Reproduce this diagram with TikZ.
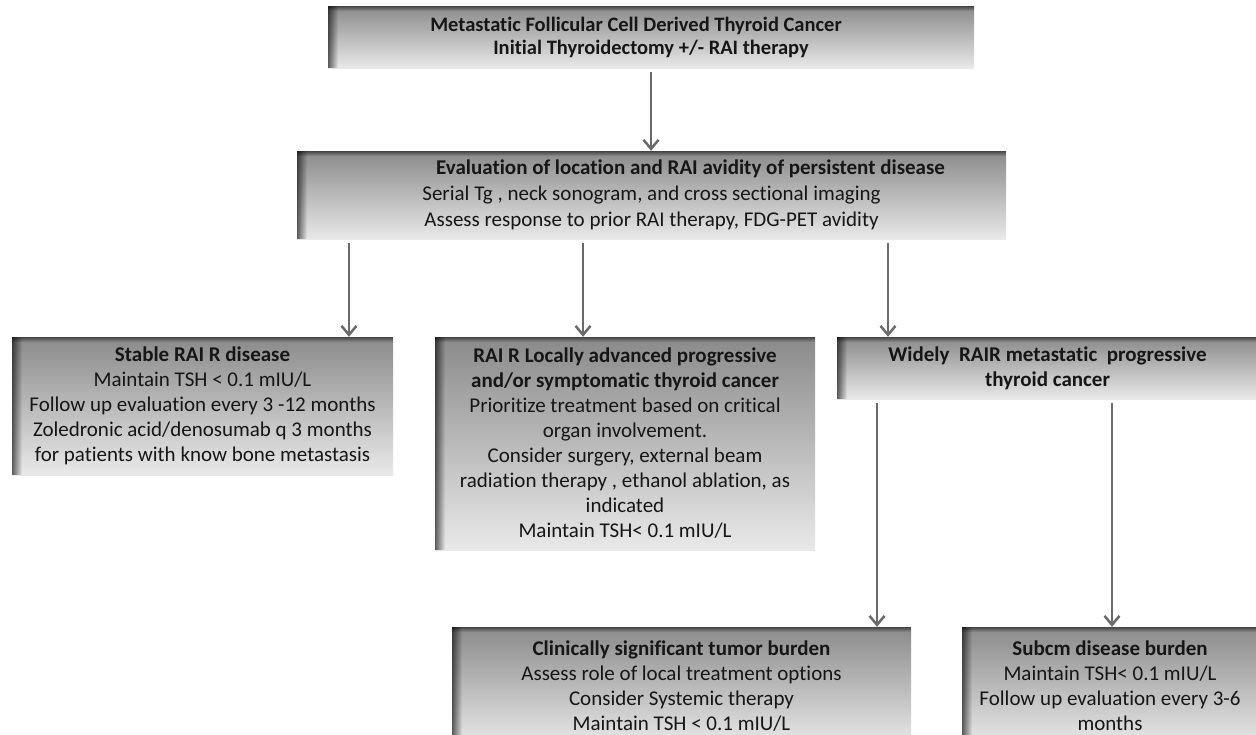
\documentclass[tikz,border=0pt]{standalone}
\usepackage{fontspec}
\setmainfont[Ligatures=NoCommon]{Carlito}
\usetikzlibrary{arrows.meta,calc}
\definecolor{boxtop}{HTML}{8A8A8A}
\definecolor{boxbot}{HTML}{E9E9E9}
\definecolor{arrgray}{HTML}{6A6A6A}
\definecolor{txtcol}{HTML}{161616}
\tikzset{
  box/.style={shade, top color=boxtop, bottom color=boxbot, inner sep=0pt,
    align=center, text=txtcol, font=\fontsize{21}{25}\selectfont,
    path picture={
      \foreach \i in {0,...,9}{
        \pgfmathsetmacro\op{0.6*(1-\i/10)}
        \fill[black, opacity=\op] ([xshift=\i pt]path picture bounding box.north west)
          rectangle ([xshift=\i pt+1pt]path picture bounding box.south west);
      }
      \foreach \j in {0,...,4}{
        \pgfmathsetmacro\opb{0.5*(1-\j/5)}
        \fill[black, opacity=\opb] ([yshift=-\j pt]path picture bounding box.north west)
          rectangle ([yshift=-\j pt-1pt]path picture bounding box.north east);
      }
    }},
  arr/.style={draw=arrgray, line width=2.5pt, shorten <=4pt,
    -{Straight Barb[length=9pt,width=15pt,line width=2.5pt]}}
}
\begin{document}
\begin{tikzpicture}[x=1pt,y=-1pt]
\useasboundingbox (0,0) rectangle (1256,734);
\clip (0,0) rectangle (1256,734);
\fill[white] (0,0) rectangle (1256,734);

\node[box, minimum width=646pt, minimum height=62pt, font=\bfseries\fontsize{20.5}{23}\selectfont] (b1) at (651,37)
  {Metastatic Follicular Cell Derived Thyroid Cancer\hspace*{30pt}\\Initial Thyroidectomy +/- RAI therapy};

\node[box, minimum width=709pt, minimum height=88pt, font=\fontsize{21}{26}\selectfont] (b2) at (651.5,195)
  {\hspace*{78pt}\textbf{Evaluation of location and RAI avidity of persistent disease}\\
   Serial Tg , neck sonogram, and cross sectional imaging\\
   Assess response to prior RAI therapy, FDG-PET avidity};

\node[box, minimum width=381pt, minimum height=138pt] (b3) at (202.5,406)
  {\textbf{Stable RAI R disease}\\
   Maintain TSH < 0.1 mIU/L\\
   Follow up evaluation every 3 -12 months\\
   Zoledronic acid/denosumab q 3 months\\
   for patients with know bone metastasis};

\node[box, minimum width=380pt, minimum height=213pt] (b4) at (625,443.5)
  {\textbf{RAI R Locally advanced progressive}\\
   \textbf{and/or symptomatic thyroid cancer}\\
   Prioritize treatment based on critical\\
   organ involvement.\\
   Consider surgery, external beam\\
   radiation therapy , ethanol ablation, as\\
   indicated\\
   Maintain TSH< 0.1 mIU/L};

\node[box, minimum width=421pt, minimum height=62pt, font=\bfseries\fontsize{21}{25}\selectfont] (b5) at (1047.5,368)
  {Widely\ \ RAIR metastatic\ \ progressive\\thyroid cancer};

\node[box, minimum width=459pt, minimum height=118pt] (b6) at (681.5,686)
  {\textbf{Clinically significant tumor burden}\\
   Assess role of local treatment options\\
   Consider Systemic therapy\\
   Maintain TSH < 0.1 mIU/L};

\node[box, minimum width=296pt, minimum height=118pt] (b7) at (1110,686)
  {\textbf{Subcm disease burden}\\
   Maintain TSH< 0.1 mIU/L\\
   Follow up evaluation every 3-6\\
   months};

\coordinate (xa) at (651,0);
\coordinate (xb) at (349,0);
\coordinate (xc) at (583,0);
\coordinate (xd) at (888,0);
\coordinate (xe) at (877,0);
\coordinate (xf) at (1112,0);

\draw[arr] (xa |- b1.south) -- (xa |- b2.north);
\draw[arr] (xb |- b2.south) -- (xb |- b3.north);
\draw[arr] (xc |- b2.south) -- (xc |- b4.north);
\draw[arr] (xd |- b2.south) -- (xd |- b5.north);
\draw[arr] (xe |- b5.south) -- (xe |- b6.north);
\draw[arr] (xf |- b5.south) -- (xf |- b7.north);
\end{tikzpicture}
\end{document}
